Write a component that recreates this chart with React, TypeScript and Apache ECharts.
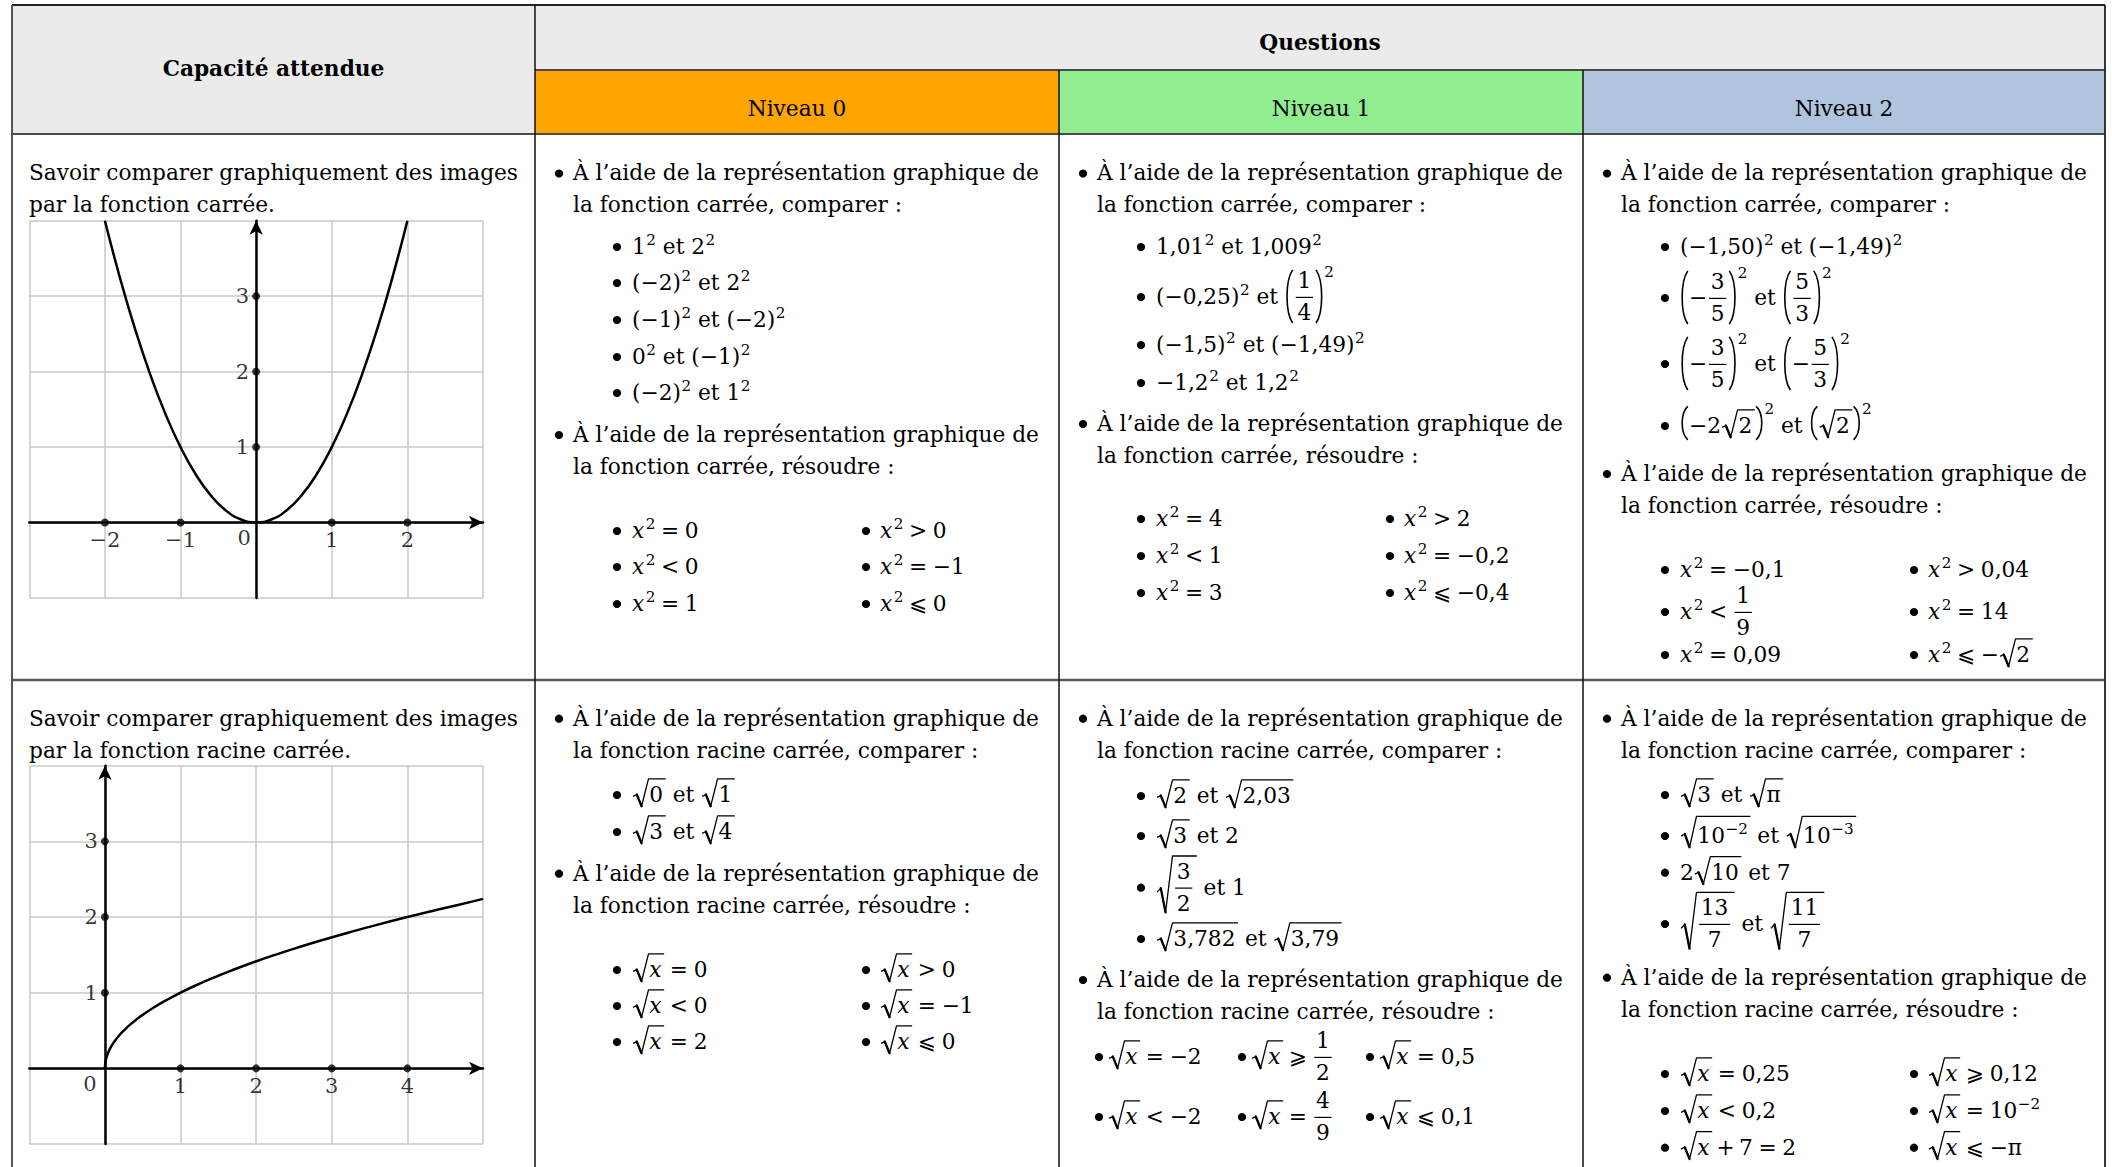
import React, { useEffect, useRef } from 'react';
import * as echarts from 'echarts';

const FAM = '"DejaVu Serif", "DejaVu Sans", serif';

// ---- curve data ----
const squareX = [-2, -1.8, -1.6, -1.4, -1.2, -1, -0.8, -0.6, -0.4, -0.2, 0, 0.2, 0.4, 0.6, 0.8, 1, 1.2, 1.4, 1.6, 1.8, 2];
const squareY = [4, 3.24, 2.56, 1.96, 1.44, 1, 0.64, 0.36, 0.16, 0.04, 0, 0.04, 0.16, 0.36, 0.64, 1, 1.44, 1.96, 2.56, 3.24, 4];
const rootX = [0, 0.01, 0.04, 0.09, 0.16, 0.25, 0.36, 0.49, 0.64, 0.81, 1, 1.21, 1.44, 1.69, 1.96, 2.25, 2.56, 2.89, 3.24, 3.61, 4, 4.41, 4.84, 5];
const rootY = [0, 0.1, 0.2, 0.3, 0.4, 0.5, 0.6, 0.7, 0.8, 0.9, 1, 1.1, 1.2, 1.3, 1.4, 1.5, 1.6, 1.7, 1.8, 1.9, 2, 2.1, 2.2, 2.24];
const squareTickX = [-2, -1, 1, 2];
const squareTickY = [1, 2, 3];
const rootTickX = [1, 2, 3, 4];
const rootTickY = [1, 2, 3];

// ---- table texts ----
const headerLeft = 'Capacité attendue';
const headerTop = 'Questions';
const levels = ['Niveau 0', 'Niveau 1', 'Niveau 2'];
const levelColors = ['#FFA500', '#90EE90', '#B0C4DE'];
const capacities = [
  ['Savoir comparer graphiquement des images', 'par la fonction carrée.'],
  ['Savoir comparer graphiquement des images', 'par la fonction racine carrée.'],
];
const introLine = 'À l’aide de la représentation graphique de';

// ---- tiny math layout engine ----
type Box = { w: number; a: number; d: number; draw: (x: number, y: number, out: any[]) => void };
let S = 22;
let mctx: any = null;
const CENTRAL = 0.346;
function fnt(size: number, it?: boolean, bold?: boolean) {
  return `${it ? 'italic ' : ''}${bold ? 'bold ' : ''}${size.toFixed(2)}px ${FAM}`;
}
function mw(s: string, f: string) {
  if (!mctx) mctx = document.createElement('canvas').getContext('2d');
  mctx.font = f;
  return mctx.measureText(s).width;
}
function txt(s: string, o: { it?: boolean; bold?: boolean; size?: number } = {}): Box {
  const size = o.size ?? S;
  const f = fnt(size, o.it, o.bold);
  const w = mw(s, f);
  return {
    w, a: 0.73 * size, d: 0.02 * size,
    draw(x, y, out) {
      out.push({
        type: 'text', silent: true, x, y: y - CENTRAL * size,
        style: { text: s, font: f, fill: '#000', align: 'left', verticalAlign: 'middle', textAlign: 'left', textVerticalAlign: 'middle' },
      });
    },
  };
}
const T = (s: string) => txt(s);
const I = (s: string) => txt(s, { it: true });
const sp = (w: number): Box => ({ w, a: 0, d: 0, draw() {} });
function H(...bs: Box[]): Box {
  return {
    w: bs.reduce((s, b) => s + b.w, 0),
    a: Math.max(0, ...bs.map((b) => b.a)),
    d: Math.max(0, ...bs.map((b) => b.d)),
    draw(x, y, out) {
      let cx = x;
      for (const b of bs) { b.draw(cx, y, out); cx += b.w; }
    },
  };
}
function sup(base: Box, e: string, kern = 0.5): Box {
  const eb = txt(e, { size: 0.7 * S });
  const r = Math.max(0.38 * S, base.a - 0.7 * eb.a);
  return {
    w: base.w + kern + eb.w, a: Math.max(base.a, r + eb.a), d: base.d,
    draw(x, y, out) { base.draw(x, y, out); eb.draw(x + base.w + kern, y - r, out); },
  };
}
const rel = (s: string) => H(sp(0.26 * S), T(s), sp(0.26 * S));
const bin = (s: string) => H(sp(0.2 * S), T(s), sp(0.2 * S));
const et = () => { const sw = mw(' ', fnt(S)); return H(sp(sw), T('et'), sp(sw)); };
const par = (c: Box) => H(T('('), c, T(')'));
function frac(n: string, dd: string): Box {
  const nb = T(n), db = T(dd);
  const w = Math.max(nb.w, db.w) + 0.16 * S;
  const ax = 0.3 * S, up = 0.72 * S, dn = 0.74 * S;
  return {
    w: w + 0.16 * S, a: up + nb.a, d: dn + db.d,
    draw(x, y, out) {
      const x0 = x + 0.08 * S;
      nb.draw(x0 + (w - nb.w) / 2, y - up, out);
      db.draw(x0 + (w - db.w) / 2, y + dn, out);
      out.push({ type: 'line', silent: true, shape: { x1: x0, y1: y - ax, x2: x0 + w, y2: y - ax }, style: { stroke: '#000', lineWidth: 1.2 } });
    },
  };
}
function bpar(c: Box): Box {
  const pw = 0.42 * S, ext = 0.12 * S;
  return {
    w: c.w + 2 * pw, a: c.a + ext, d: c.d + ext,
    draw(x, y, out) {
      const t = y - c.a - ext, b = y + c.d + ext, h = b - t;
      const curve = (x0: number, x1: number) => {
        const cp = (x1 - 0.25 * x0) / 0.75;
        return { type: 'bezierCurve', silent: true, shape: { x1: x0, y1: t, x2: x0, y2: b, cpx1: cp, cpy1: t + h * 0.2, cpx2: cp, cpy2: b - h * 0.2 }, style: { stroke: '#000', lineWidth: 1.6, fill: null } };
      };
      out.push(curve(x + pw - 0.06 * S, x + 0.1 * S));
      c.draw(x + pw, y, out);
      const rx = x + pw + c.w;
      out.push(curve(rx + 0.06 * S, rx + pw - 0.1 * S));
    },
  };
}
function sq(c: Box): Box {
  const rw = 0.8 * S;
  const top = Math.max(c.a, 0.73 * S) + 0.33 * S;
  const bot = Math.max(c.d + 0.06 * S, 0.2 * S);
  return {
    w: rw + c.w + 0.12 * S, a: top + 1, d: bot,
    draw(x, y, out) {
      const yt = y - top, yb = y + bot, h = top + bot;
      const p1 = [x + 0.05 * S, yb - h * 0.36];
      const p2 = [x + 0.22 * S, yb - h * 0.43];
      const p3 = [x + 0.44 * S, yb];
      const p4 = [x + rw - 0.04 * S, yt];
      const p5 = [x + rw + c.w + 0.12 * S, yt];
      out.push({ type: 'polyline', silent: true, shape: { points: [p1, p2, p3, p4, p5] }, style: { stroke: '#000', lineWidth: 1.3, fill: null, lineJoin: 'round' } });
      out.push({ type: 'line', silent: true, shape: { x1: p2[0], y1: p2[1], x2: p3[0], y2: p3[1] }, style: { stroke: '#000', lineWidth: 2.3, lineCap: 'round' } });
      c.draw(x + rw, y, out);
    },
  };
}
const x2 = () => sup(I('x'), '2', 1.5);
const rx = () => sq(I('x'));

// ---- table geometry ----
const X0 = 12, X1 = 535, X2 = 1059, X3 = 1583, X4 = 2105;
const Y0 = 5, YM = 70, YH = 134, YR = 680, YB = 1167;
const MB = 24, MT = 38, SB = 82, ST = 97, CB = 331, CT = 345;

function buildGraphics(): any[] {
  const out: any[] = [];
  const rect = (x: number, y: number, w: number, h: number, fill: string) =>
    out.push({ type: 'rect', silent: true, shape: { x, y, width: w, height: h }, style: { fill } });
  const line = (x1: number, y1: number, x2_: number, y2: number, stroke: string, lw: number) =>
    out.push({ type: 'line', silent: true, shape: { x1, y1, x2: x2_, y2 }, style: { stroke, lineWidth: lw } });

  const cols = [X1, X2, X3, X4];
  rect(X0, Y0, X4 - X0, YH - Y0, '#EBEBEB');
  levels.forEach((_, i) => rect(cols[i], YM, cols[i + 1] - cols[i], YH - YM, levelColors[i]));

  // borders
  line(X1, YM, X4, YM, '#4a4a4a', 2);
  line(X0, YH, X4, YH, '#4a4a4a', 2);
  line(X0, YR, X4, YR, '#5a5a5a', 2.5);
  line(X0, Y0, X4, Y0, '#222', 2);
  line(X0, Y0, X0, YB, '#555', 2);
  line(X4, Y0, X4, YB, '#222', 1.8);
  line(X1, Y0, X1, YB, '#111', 1.5);
  line(X2, YM, X2, YB, '#111', 1.5);
  line(X3, YM, X3, YB, '#111', 1.5);

  const place = (b: Box, x: number, c: number) => b.draw(x, c + 0.3 * S + 1.4, out);
  const centered = (b: Box, cx: number, c: number) => place(b, cx - b.w / 2, c);
  const bullet = (x: number, c: number) =>
    out.push({ type: 'circle', silent: true, shape: { cx: x, cy: c + 1, r: 0.19 * S }, style: { fill: '#000' } });

  // headers
  centered(txt(headerLeft, { bold: true }), (X0 + X1) / 2, 68);
  centered(txt(headerTop, { bold: true }), (X1 + X4) / 2, 42.5);
  levels.forEach((lv, i) => centered(T(lv), (cols[i] + cols[i + 1]) / 2, 108));

  // capacities column
  place(T(capacities[0][0]), 29, 172.5);
  place(T(capacities[0][1]), 29, 204.5);
  place(T(capacities[1][0]), 29, 717.7);
  place(T(capacities[1][1]), 29, 750);

  const main = (L: number, c: number, s: string, withBullet: boolean) => {
    if (withBullet) bullet(L + MB, c);
    place(T(s), L + MT, c);
  };
  const intro = (L: number, c: number, second: string) => {
    main(L, c, introLine, true);
    main(L, c + 32, second, false);
  };
  const sub = (L: number, c: number, b: Box) => { bullet(L + SB, c); place(b, L + ST, c); };
  const pair = (L: number, c: number, a: Box, b: Box) => {
    bullet(L + SB, c); place(a, L + ST, c);
    bullet(L + CB, c); place(b, L + CT, c);
  };

  // ===== Row 1, Niveau 0 =====
  intro(X1, 172.5, 'la fonction carrée, comparer :');
  sub(X1, 246, H(sup(T('1'), '2'), et(), sup(T('2'), '2')));
  sub(X1, 282, H(sup(par(T('−2')), '2'), et(), sup(T('2'), '2')));
  sub(X1, 319, H(sup(par(T('−1')), '2'), et(), sup(par(T('−2')), '2')));
  sub(X1, 356, H(sup(T('0'), '2'), et(), sup(par(T('−1')), '2')));
  sub(X1, 392, H(sup(par(T('−2')), '2'), et(), sup(T('1'), '2')));
  intro(X1, 434, 'la fonction carrée, résoudre :');
  pair(X1, 530, H(x2(), rel('='), T('0')), H(x2(), rel('>'), T('0')));
  pair(X1, 566, H(x2(), rel('<'), T('0')), H(x2(), rel('='), T('−1')));
  pair(X1, 603, H(x2(), rel('='), T('1')), H(x2(), rel('⩽'), T('0')));

  // ===== Row 1, Niveau 1 =====
  intro(X2, 172.5, 'la fonction carrée, comparer :');
  sub(X2, 246, H(sup(T('1,01'), '2'), et(), sup(T('1,009'), '2')));
  sub(X2, 296, H(sup(par(T('−0,25')), '2'), et(), sup(bpar(frac('1', '4')), '2')));
  sub(X2, 344, H(sup(par(T('−1,5')), '2'), et(), sup(par(T('−1,49')), '2')));
  sub(X2, 382, H(T('−'), sup(T('1,2'), '2'), et(), sup(T('1,2'), '2')));
  intro(X2, 423, 'la fonction carrée, résoudre :');
  pair(X2, 518, H(x2(), rel('='), T('4')), H(x2(), rel('>'), T('2')));
  pair(X2, 555, H(x2(), rel('<'), T('1')), H(x2(), rel('='), T('−0,2')));
  pair(X2, 592, H(x2(), rel('='), T('3')), H(x2(), rel('⩽'), T('−0,4')));

  // ===== Row 1, Niveau 2 =====
  intro(X3, 172.5, 'la fonction carrée, comparer :');
  sub(X3, 246, H(sup(par(T('−1,50')), '2'), et(), sup(par(T('−1,49')), '2')));
  sub(X3, 297, H(sup(bpar(H(T('−'), frac('3', '5'))), '2'), et(), sup(bpar(frac('5', '3')), '2')));
  sub(X3, 363, H(sup(bpar(H(T('−'), frac('3', '5'))), '2'), et(), sup(bpar(H(T('−'), frac('5', '3'))), '2')));
  sub(X3, 425, H(sup(bpar(H(T('−2'), sq(T('2')))), '2'), et(), sup(bpar(sq(T('2'))), '2')));
  intro(X3, 473, 'la fonction carrée, résoudre :');
  pair(X3, 569, H(x2(), rel('='), T('−0,1')), H(x2(), rel('>'), T('0,04')));
  pair(X3, 611, H(x2(), rel('<'), frac('1', '9')), H(x2(), rel('='), T('14')));
  pair(X3, 654, H(x2(), rel('='), T('0,09')), H(x2(), rel('⩽'), T('−'), sq(T('2'))));

  // ===== Row 2, Niveau 0 =====
  intro(X1, 717.7, 'la fonction racine carrée, comparer :');
  sub(X1, 794, H(sq(T('0')), et(), sq(T('1'))));
  sub(X1, 831, H(sq(T('3')), et(), sq(T('4'))));
  intro(X1, 872.7, 'la fonction racine carrée, résoudre :');
  pair(X1, 969, H(rx(), rel('='), T('0')), H(rx(), rel('>'), T('0')));
  pair(X1, 1005, H(rx(), rel('<'), T('0')), H(rx(), rel('='), T('−1')));
  pair(X1, 1041, H(rx(), rel('='), T('2')), H(rx(), rel('⩽'), T('0')));

  // ===== Row 2, Niveau 1 =====
  intro(X2, 717.7, 'la fonction racine carrée, comparer :');
  sub(X2, 795, H(sq(T('2')), et(), sq(T('2,03'))));
  sub(X2, 835, H(sq(T('3')), et(), T('2')));
  sub(X2, 886.7, H(sq(frac('3', '2')), et(), T('1')));
  sub(X2, 938, H(sq(T('3,782')), et(), sq(T('3,79'))));
  intro(X2, 979, 'la fonction racine carrée, résoudre :');
  const tri = [40, 183, 311];
  const triRows: [number, Box[]][] = [
    [1056, [H(rx(), rel('='), T('−2')), H(rx(), rel('⩾'), frac('1', '2')), H(rx(), rel('='), T('0,5'))]],
    [1116, [H(rx(), rel('<'), T('−2')), H(rx(), rel('='), frac('4', '9')), H(rx(), rel('⩽'), T('0,1'))]],
  ];
  triRows.forEach(([c, bs]) => bs.forEach((b, i) => { bullet(X2 + tri[i], c); place(b, X2 + tri[i] + 9, c); }));

  // ===== Row 2, Niveau 2 =====
  intro(X3, 717.7, 'la fonction racine carrée, comparer :');
  sub(X3, 794, H(sq(T('3')), et(), sq(T('π'))));
  sub(X3, 835, H(sq(sup(T('10'), '−2')), et(), sq(sup(T('10'), '−3'))));
  sub(X3, 871.7, H(T('2'), sq(T('10')), et(), T('7')));
  sub(X3, 923, H(sq(frac('13', '7')), et(), sq(frac('11', '7'))));
  intro(X3, 976.7, 'la fonction racine carrée, résoudre :');
  pair(X3, 1073, H(rx(), rel('='), T('0,25')), H(rx(), rel('⩾'), T('0,12')));
  pair(X3, 1110, H(rx(), rel('<'), T('0,2')), H(rx(), rel('='), sup(T('10'), '−2')));
  pair(X3, 1146.7, H(rx(), bin('+'), T('7'), rel('='), T('2')), H(rx(), rel('⩽'), T('−π')));

  return out;
}

function fmtNum(v: number) {
  return v < 0 ? '−' + String(-v) : String(v);
}

function makeAxes(gridIndex: number, xmin: number, xmax: number) {
  const common = {
    gridIndex, type: 'value', interval: 1,
    axisLine: { onZero: true, lineStyle: { color: '#000', width: 2.5 }, symbol: ['none', 'arrow'], symbolSize: [10, 14] },
    axisTick: { show: false },
    axisLabel: { show: false },
    splitLine: { show: true, lineStyle: { color: '#c8c8c8', width: 1.5 } },
  };
  return { xAxis: { ...common, min: xmin, max: xmax }, yAxis: { ...common, min: -1, max: 4 } };
}

function tickSeries(idx: number, tx: number[], ty: number[], zeroShift: number, LBL: number) {
  const lab = { show: true, color: '#000', fontFamily: 'DejaVu Serif', fontSize: LBL, fontWeight: 'normal' };
  return [
    {
      type: 'scatter', xAxisIndex: idx, yAxisIndex: idx, silent: true, z: 4,
      data: tx.map((x) => [x, 0]), symbolSize: 8, itemStyle: { color: '#000' },
      label: { ...lab, position: 'bottom', distance: 3, formatter: (p: any) => fmtNum(p.value[0]) },
    },
    {
      type: 'scatter', xAxisIndex: idx, yAxisIndex: idx, silent: true, z: 4,
      data: ty.map((y) => [0, y]), symbolSize: 8, itemStyle: { color: '#000' },
      label: { ...lab, position: 'left', distance: 3, formatter: (p: any) => fmtNum(p.value[1]) },
    },
    {
      type: 'scatter', xAxisIndex: idx, yAxisIndex: idx, silent: true, z: 4,
      data: [[0, 0]], symbolSize: 0, itemStyle: { color: 'transparent' },
      label: { ...lab, position: 'bottom', distance: 5, offset: [zeroShift, 0], formatter: () => '0' },
    },
  ];
}

export default function App() {
  const ref = useRef<HTMLDivElement>(null);
  useEffect(() => {
    if (!ref.current) return;
    const probe = 'Savoir comparer graphiquement des images';
    const w100 = mw(probe, fnt(100));
    S = Math.min(30, Math.max(18, (489 * 100) / w100));
    const LBL = Math.round(0.95 * S);
    const chart = echarts.init(ref.current, undefined, { renderer: 'svg' });
    const a0 = makeAxes(0, -3, 3);
    const a1 = makeAxes(1, -1, 5);
    chart.setOption({
      animation: false,
      backgroundColor: '#ffffff',
      grid: [
        { left: 29.3, top: 220.7, width: 453.7, height: 377.3 },
        { left: 29.3, top: 765.7, width: 453.7, height: 378.3 },
      ],
      xAxis: [a0.xAxis, a1.xAxis],
      yAxis: [a0.yAxis, a1.yAxis],
      series: [
        {
          type: 'line', xAxisIndex: 0, yAxisIndex: 0, silent: true, z: 3,
          data: squareX.map((x, i) => [x, squareY[i]]),
          smooth: true, showSymbol: false, lineStyle: { color: '#000', width: 2.5 },
        },
        ...tickSeries(0, squareTickX, squareTickY, -12, LBL),
        {
          type: 'line', xAxisIndex: 1, yAxisIndex: 1, silent: true, z: 3,
          data: rootX.map((x, i) => [x, rootY[i]]),
          smooth: true, showSymbol: false, lineStyle: { color: '#000', width: 2.5 },
        },
        ...tickSeries(1, rootTickX, rootTickY, -15, LBL),
      ],
      graphic: { elements: buildGraphics() },
    });
    return () => chart.dispose();
  }, []);
  return <div ref={ref} style={{ position: 'absolute', left: 0, top: 0, width: 2112, height: 1167 }} />;
}
